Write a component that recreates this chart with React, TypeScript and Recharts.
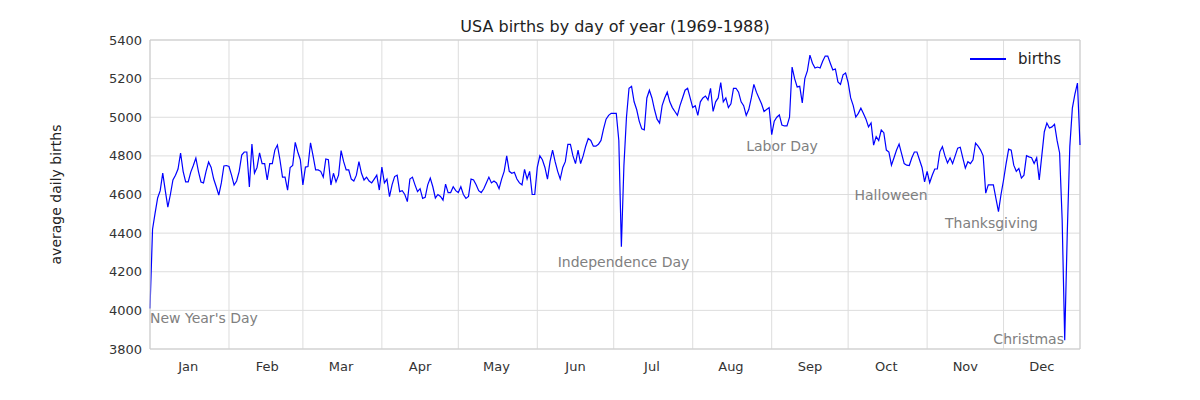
import React from "react";
import {
  LineChart,
  Line,
  XAxis,
  YAxis,
  CartesianGrid,
  ReferenceLine,
  ReferenceDot,
  Legend,
} from "recharts";

const months = ["Jan", "Feb", "Mar", "Apr", "May", "Jun", "Jul", "Aug", "Sep", "Oct", "Nov", "Dec"];
const monthStarts = [0, 31, 60, 91, 121, 152, 182, 213, 244, 274, 305, 335];

const jan = [4010, 4420, 4504, 4582, 4620, 4711, 4620, 4535, 4600, 4675, 4700, 4732, 4815, 4720, 4665, 4665, 4716, 4750, 4789, 4720, 4665, 4660, 4720, 4768, 4740, 4680, 4640, 4597, 4660, 4748, 4750];
const feb = [4745, 4700, 4649, 4670, 4720, 4804, 4820, 4820, 4639, 4861, 4711, 4740, 4815, 4760, 4760, 4675, 4760, 4760, 4830, 4856, 4780, 4690, 4690, 4623, 4740, 4750, 4870, 4820, 4780];
const mar = [4650, 4742, 4745, 4868, 4800, 4727, 4727, 4720, 4690, 4784, 4780, 4649, 4710, 4665, 4700, 4827, 4770, 4727, 4727, 4680, 4670, 4700, 4770, 4710, 4675, 4690, 4670, 4660, 4680, 4700, 4623];
const apr = [4742, 4660, 4680, 4589, 4650, 4693, 4700, 4615, 4620, 4600, 4563, 4680, 4690, 4650, 4615, 4630, 4580, 4585, 4650, 4685, 4640, 4582, 4600, 4590, 4571, 4654, 4610, 4610, 4640, 4620];
const may = [4610, 4640, 4600, 4580, 4590, 4680, 4675, 4650, 4620, 4610, 4630, 4660, 4690, 4660, 4670, 4660, 4630, 4680, 4720, 4800, 4720, 4710, 4715, 4680, 4660, 4650, 4730, 4680, 4720, 4600, 4600];
const jun = [4740, 4800, 4780, 4740, 4680, 4770, 4830, 4770, 4720, 4680, 4740, 4770, 4860, 4860, 4800, 4760, 4830, 4760, 4800, 4850, 4890, 4880, 4850, 4850, 4860, 4880, 4940, 4990, 5010, 5020];
const jul = [5020, 5020, 4880, 4330, 4750, 5000, 5150, 5160, 5080, 5040, 4980, 4940, 4935, 5100, 5140, 5100, 5040, 4990, 4970, 5060, 5100, 5130, 5080, 5050, 5030, 5010, 5060, 5100, 5140, 5150, 5100];
const aug = [5050, 5060, 5010, 5080, 5100, 5110, 5090, 5150, 5030, 5080, 5100, 5180, 5080, 5100, 5050, 5070, 5150, 5150, 5130, 5080, 5060, 5010, 5040, 5100, 5170, 5130, 5100, 5070, 5030, 5040, 5050];
const sep = [4910, 4980, 5000, 5012, 4960, 4955, 4955, 5000, 5260, 5200, 5157, 5160, 5074, 5200, 5240, 5322, 5280, 5255, 5260, 5255, 5290, 5317, 5317, 5280, 5245, 5250, 5183, 5170, 5220, 5229];
const oct = [5180, 5100, 5060, 5001, 5020, 5047, 5020, 4990, 4950, 4970, 4856, 4900, 4880, 4934, 4920, 4830, 4820, 4752, 4790, 4830, 4861, 4810, 4760, 4752, 4750, 4790, 4820, 4820, 4780, 4740, 4665];
const nov = [4720, 4661, 4700, 4732, 4732, 4822, 4848, 4800, 4763, 4790, 4760, 4800, 4840, 4845, 4790, 4737, 4770, 4760, 4780, 4866, 4850, 4830, 4800, 4607, 4650, 4650, 4650, 4580, 4511, 4600];
const dec = [4675, 4760, 4835, 4830, 4752, 4720, 4735, 4685, 4700, 4801, 4795, 4790, 4760, 4790, 4675, 4800, 4925, 4970, 4944, 4950, 4964, 4880, 4815, 4468, 3845, 4400, 4848, 5047, 5120, 5177, 4856];

const births = [...jan, ...feb, ...mar, ...apr, ...may, ...jun, ...jul, ...aug, ...sep, ...oct, ...nov, ...dec];
const yTicks = [3800, 4000, 4200, 4400, 4600, 4800, 5000, 5200, 5400];

// holiday labels: [text, day, value]
const notes: [string, number, number][] = [
  ["New Year's Day", 0, 3960],
  ["Independence Day", 160, 4250],
  ["Labor Day", 234, 4850],
  ["Halloween", 276.5, 4600],
  ["Thanksgiving", 312, 4450],
  ["Christmas", 331, 3850],
];

const data = births.map((v, i) => ({ day: i, births: v }));
const font = "DejaVu Sans, sans-serif";
const pxPerDay = 930 / 365;

function MonthTick({ x, y, payload, index }: any) {
  return (
    <text x={x + 15 * pxPerDay} y={y + 14} textAnchor="middle" fontSize={13} fill="#333" fontFamily={font}>
      {months[index] ?? ""}
    </text>
  );
}

function NoteLabel({ viewBox, value }: any) {
  return (
    <text x={viewBox.x} y={viewBox.y + 5} fontSize={14} fill="#808080" fontFamily={font}>
      {value}
    </text>
  );
}

export default function App() {
  return (
    <div style={{ width: 1184, height: 384, position: "relative", fontFamily: font }}>
      <div style={{ position: "absolute", left: 142, width: 930, top: 9, textAlign: "center", fontSize: 16, color: "#222" }}>
        USA births by day of year (1969-1988)
      </div>
      <LineChart width={1184} height={384} data={data} margin={{ top: 32, right: 112, left: 0, bottom: 13 }}>
        <CartesianGrid stroke="#dddddd" verticalPoints={undefined} />
        <XAxis
          dataKey="day"
          type="number"
          domain={[0, 365]}
          ticks={monthStarts}
          tick={<MonthTick />}
          tickLine={false}
          axisLine={{ stroke: "#cccccc" }}
          height={30}
        />
        <YAxis
          domain={[3800, 5400]}
          ticks={yTicks}
          width={142}
          tick={{ fontSize: 13, fill: "#333", fontFamily: font }}
          tickLine={false}
          axisLine={{ stroke: "#cccccc" }}
          label={{ value: "average daily births", angle: -90, position: "insideLeft", offset: 48, style: { fontSize: 14, fill: "#222", fontFamily: font, textAnchor: "middle" } }}
        />
        <ReferenceLine x={365} stroke="#cccccc" />
        <ReferenceLine y={5400} stroke="#cccccc" />
        <Legend
          verticalAlign="top"
          content={() => (
            <div style={{ position: "absolute", left: 962, top: 10, display: "flex", alignItems: "center", fontSize: 15, color: "#222", fontFamily: font }}>
              <span style={{ display: "inline-block", width: 36, height: 1.5, background: "#0000ff", marginRight: 12 }} />
              births
            </div>
          )}
          wrapperStyle={{ top: 32, left: 0 }}
        />
        <Line type="linear" dataKey="births" stroke="#0000ff" strokeWidth={1.2} dot={false} isAnimationActive={false} />
        {notes.map(([t, d, v]) => (
          <ReferenceDot key={t} x={d} y={v} r={0} fill="none" stroke="none" label={<NoteLabel value={t} />} />
        ))}
      </LineChart>
    </div>
  );
}
